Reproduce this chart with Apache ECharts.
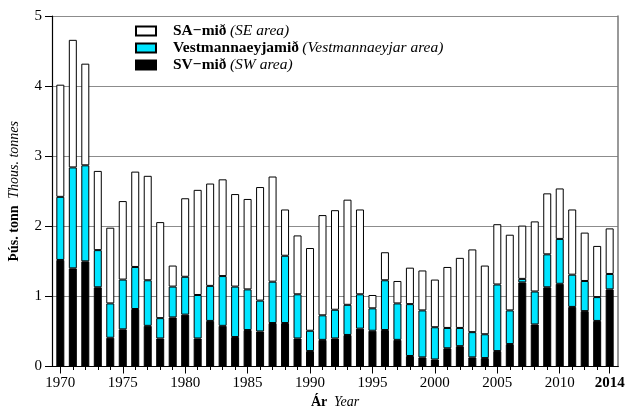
<!DOCTYPE html>
<html><head><meta charset="utf-8">
<script src="https://cdn.jsdelivr.net/npm/echarts@6/dist/echarts.min.js"></script>
<style>html,body{margin:0;padding:0;background:#fff}#c{width:625px;height:408px}</style>
</head><body><div id="c"></div>
<script>
var years = [];
for (var y = 1970; y <= 2014; y++) years.push(y);
var tickLabels = [1970, 1975, 1980, 1985, 1990, 1995, 2000, 2005, 2010, 2014];
var yTicks = [0, 1, 2, 3, 4, 5];
var sv = [1.52,1.40,1.50,1.13,0.41,0.53,0.82,0.58,0.40,0.70,0.74,0.40,0.65,0.58,0.42,0.52,0.50,0.62,0.62,0.40,0.22,0.38,0.40,0.45,0.54,0.51,0.52,0.38,0.15,0.13,0.10,0.26,0.29,0.13,0.12,0.22,0.32,1.20,0.60,1.13,1.18,0.85,0.79,0.65,1.10];
var vest = [0.90,1.44,1.37,0.53,0.49,0.71,0.60,0.65,0.29,0.44,0.54,0.62,0.50,0.71,0.72,0.58,0.44,0.59,0.96,0.63,0.29,0.35,0.41,0.43,0.49,0.32,0.71,0.52,0.74,0.67,0.46,0.29,0.26,0.36,0.34,0.95,0.48,0.05,0.47,0.47,0.64,0.46,0.43,0.34,0.22];
var sa = [1.60,1.82,1.45,1.13,1.08,1.12,1.36,1.49,1.37,0.30,1.12,1.50,1.46,1.38,1.32,1.29,1.62,1.50,0.66,0.84,1.18,1.43,1.42,1.50,1.21,0.19,0.40,0.32,0.52,0.57,0.68,0.87,1.00,1.18,0.98,0.86,1.08,0.76,1.00,0.87,0.72,0.93,0.69,0.73,0.65];
var seriesNames = ['SV−mið', 'Vestmannaeyjamið', 'SA−mið'];
var seriesEn = {'SV−mið': '(SW area)', 'Vestmannaeyjamið': '(Vestmannaeyjar area)', 'SA−mið': '(SE area)'};

var F = '"Liberation Serif", "DejaVu Serif", serif';
var xMin = 1969.33, xMax = 2014.67;
var chart = echarts.init(document.getElementById('c'), null, {renderer: 'canvas'});
var bs = {borderColor: '#000', borderWidth: 1};
chart.setOption({
  animation: false,
  backgroundColor: '#fff',
  grid: [
    {left: 52, right: 7, top: 16, bottom: 41.5, outerBoundsMode: 'none', containLabel: false},
    {left: 54.1, right: 9.1, top: 16, bottom: 41.5, outerBoundsMode: 'none', containLabel: false}
  ],
  legend: {
    orient: 'vertical', left: 130, top: 18, itemWidth: 20, itemHeight: 9, itemGap: 1,
    icon: 'rect',
    data: ['SA−mið', 'Vestmannaeyjamið', 'SV−mið'],
    formatter: function (n) { return '{b|' + n + '} {i|' + seriesEn[n] + '}'; },
    textStyle: {
      padding: [0, 0, 0, 12],
      rich: {
        b: {fontFamily: F, fontSize: 15.5, fontWeight: 'bold', color: '#000', lineHeight: 16},
        i: {fontFamily: F, fontSize: 15.5, fontStyle: 'italic', color: '#000', lineHeight: 16}
      }
    }
  },
  xAxis: [
    {gridIndex: 0, type: 'value', min: xMin, max: xMax, position: 'bottom',
     name: '{b|Ár}  {i|Year}', nameLocation: 'middle', nameGap: 27,
     nameTextStyle: {rich: {b: {fontFamily: F, fontSize: 14, fontWeight: 'bold', color: '#000'}, i: {fontFamily: F, fontSize: 14, fontStyle: 'italic', color: '#000'}}},
     axisLine: {show: true, lineStyle: {color: '#000', width: 1}},
     axisTick: {show: true, customValues: years, length: 3.5, lineStyle: {color: '#000'}},
     axisLabel: {customValues: tickLabels, fontFamily: F, fontSize: 15, color: '#000', margin: 9,
       formatter: function (v) { return v === 2014 ? '{bb|2014}' : String(v); },
       rich: {bb: {fontFamily: F, fontSize: 15, fontWeight: 'bold', color: '#000'}}},
     splitLine: {show: false}},
    {gridIndex: 0, type: 'value', min: xMin, max: xMax, position: 'top',
     axisLine: {show: true, lineStyle: {color: '#000', width: 1.2}},
     axisTick: {show: false}, axisLabel: {show: false}, splitLine: {show: false}},
    {gridIndex: 0, type: 'value', min: xMin, max: xMax, position: 'bottom',
     axisLine: {show: false},
     axisTick: {show: true, customValues: tickLabels, length: 7, lineStyle: {color: '#000'}},
     axisLabel: {show: false}, splitLine: {show: false}},
    {gridIndex: 1, type: 'category', data: years, show: false}
  ],
  yAxis: [
    {gridIndex: 0, type: 'value', min: 0, max: 5, interval: 1,
     name: '{b|Þús. tonn}  {i|Thous. tonnes}', nameLocation: 'middle', nameGap: 31,
     nameTextStyle: {rich: {b: {fontFamily: F, fontSize: 14, fontWeight: 'bold', color: '#000'}, i: {fontFamily: F, fontSize: 14, fontStyle: 'italic', color: '#000'}}},
     axisLine: {show: true, lineStyle: {color: '#000', width: 1.2}},
     axisTick: {show: true, length: 7, lineStyle: {color: '#000'}},
     axisLabel: {fontFamily: F, fontSize: 15, color: '#000', margin: 10,
       formatter: function (v) { return yTicks.indexOf(v) >= 0 ? String(v) : ''; }},
     splitLine: {show: true, lineStyle: {color: '#8c8c8c', width: 1}}},
    {gridIndex: 0, type: 'value', min: 0, max: 5, position: 'right',
     axisLine: {show: true, lineStyle: {color: '#777', width: 1.5}},
     axisTick: {show: false}, axisLabel: {show: false}, splitLine: {show: false}},
    {gridIndex: 1, type: 'value', min: 0, max: 5, show: false, splitLine: {show: false}}
  ],
  series: [
    {name: seriesNames[0], type: 'bar', stack: 'a', barWidth: 8, xAxisIndex: 3, yAxisIndex: 2, data: sv,
     itemStyle: Object.assign({color: '#000'}, bs)},
    {name: seriesNames[1], type: 'bar', stack: 'a', barWidth: 8, xAxisIndex: 3, yAxisIndex: 2, data: vest,
     itemStyle: Object.assign({color: '#00e5ff'}, bs)},
    {name: seriesNames[2], type: 'bar', stack: 'a', barWidth: 8, xAxisIndex: 3, yAxisIndex: 2, data: sa,
     itemStyle: Object.assign({color: '#fff'}, bs)}
  ]
});
</script></body></html>
